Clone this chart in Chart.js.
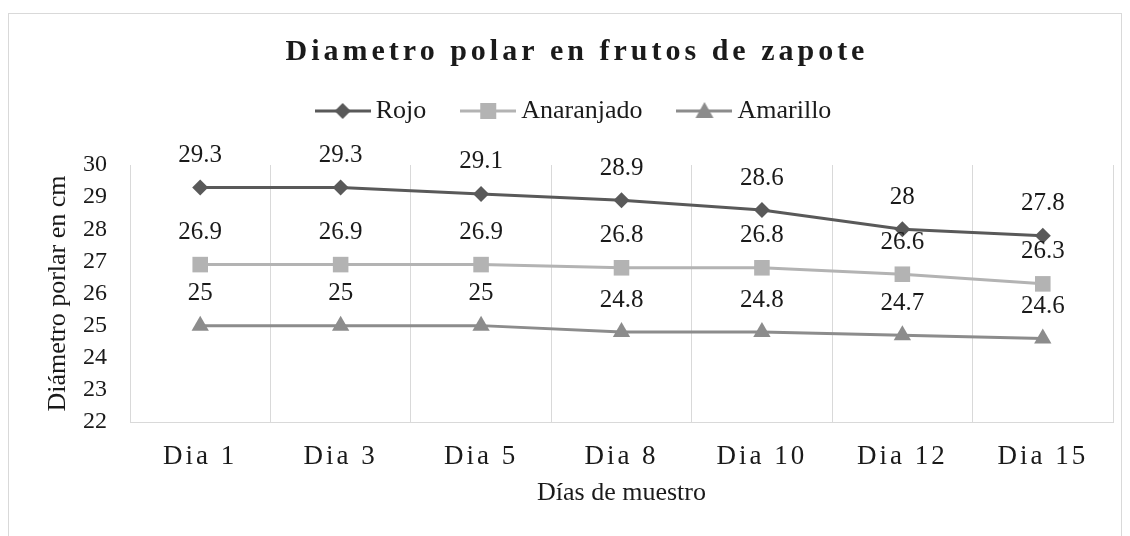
<!DOCTYPE html>
<html>
<head>
<meta charset="utf-8">
<script src="https://cdn.jsdelivr.net/npm/chart.js@4/dist/chart.umd.min.js"></script>
<style>
    body { margin: 0; background: #fff; }
    #wrap { position: relative; width: 1130px; height: 536px; overflow: hidden; }
    #frame { position: absolute; left: 8px; top: 13px; width: 1112px; height: 600px; border: 1px solid #d9d9d9; }
    #chart { position: absolute; left: 0; top: 0; }
</style>
</head>
<body>
<div id="wrap">
    <div id="frame"></div>
    <canvas id="chart" width="1130" height="536"></canvas>
</div>
<script>
const categories = ['Dia 1', 'Dia 3', 'Dia 5', 'Dia 8', 'Dia 10', 'Dia 12', 'Dia 15'];
const rojo = [29.3, 29.3, 29.1, 28.9, 28.6, 28, 27.8];
const anaranjado = [26.9, 26.9, 26.9, 26.8, 26.8, 26.6, 26.3];
const amarillo = [25, 25, 25, 24.8, 24.8, 24.7, 24.6];

const FONT = '"Liberation Serif", "Times New Roman", serif';
const TEXT = '#1a1a1a';

// legend swatch: line with the marker in the middle
function makeIcon(color, shape) {
    const c = document.createElement('canvas');
    c.width = 56; c.height = 24;
    const g = c.getContext('2d');
    g.strokeStyle = color; g.fillStyle = color; g.lineWidth = 3;
    g.beginPath(); g.moveTo(0, 12); g.lineTo(56, 12); g.stroke();
    g.beginPath();
    if (shape === 'diamond') {
        g.moveTo(28, 4); g.lineTo(36, 12); g.lineTo(28, 20); g.lineTo(20, 12);
    } else if (shape === 'square') {
        g.rect(20, 4, 16, 16);
    } else {
        g.moveTo(28, 3); g.lineTo(37, 19); g.lineTo(19, 19);
    }
    g.closePath(); g.fill();
    return c;
}
const legendIcons = [
    makeIcon('#595959', 'diamond'),
    makeIcon('#b3b3b3', 'square'),
    makeIcon('#8c8c8c', 'triangle')
];

// value labels above each point
const pointLabels = {
    id: 'pointLabels',
    afterDatasetsDraw(chart) {
        const ctx = chart.ctx;
        ctx.save();
        ctx.font = '25px ' + FONT;
        ctx.fillStyle = TEXT;
        ctx.textAlign = 'center';
        ctx.textBaseline = 'middle';
        chart.data.datasets.forEach((ds, i) => {
            chart.getDatasetMeta(i).data.forEach((pt, j) => {
                ctx.fillText(String(ds.data[j]), pt.x, pt.y - 32);
            });
        });
        ctx.restore();
    }
};

// spaced out lettering for title and category labels
const spacing = {
    id: 'spacing',
    beforeDraw(chart) {
        const t = chart.titleBlock;
        if (t && !t._spaced) {
            const d = t.draw;
            t.draw = function () {
                this.ctx.save(); this.ctx.letterSpacing = '4px';
                d.apply(this, arguments);
                this.ctx.restore();
            };
            t._spaced = true;
        }
        const x = chart.scales.x;
        if (x && !x._spaced) {
            const dl = x.drawLabels;
            x.drawLabels = function () {
                this.ctx.save(); this.ctx.letterSpacing = '3px';
                dl.apply(this, arguments);
                this.ctx.restore();
            };
            x._spaced = true;
        }
    }
};

new Chart(document.getElementById('chart'), {
    type: 'line',
    data: {
        labels: categories,
        datasets: [
            {
                label: 'Rojo', data: rojo,
                borderColor: '#595959', backgroundColor: '#595959',
                borderWidth: 3, pointStyle: 'rectRot', pointRadius: 8, pointBorderWidth: 0
            },
            {
                label: 'Anaranjado', data: anaranjado,
                borderColor: '#b3b3b3', backgroundColor: '#b3b3b3',
                borderWidth: 3, pointStyle: 'rect', pointRadius: 11, pointBorderWidth: 0
            },
            {
                label: 'Amarillo', data: amarillo,
                borderColor: '#8c8c8c', backgroundColor: '#8c8c8c',
                borderWidth: 3, pointStyle: 'triangle', pointRadius: 10, pointBorderWidth: 0
            }
        ]
    },
    options: {
        responsive: false,
        animation: false,
        layout: { padding: { left: 41, right: 17, top: 0, bottom: 0 } },
        plugins: {
            tooltip: { enabled: false },
            title: {
                display: true,
                text: 'Diametro polar en frutos de zapote',
                color: TEXT,
                font: { family: FONT, size: 30, weight: 'bold', lineHeight: 1 },
                padding: { top: 37, bottom: -11 }
            },
            legend: {
                display: true,
                labels: {
                    usePointStyle: true,
                    pointStyleWidth: 40,
                    padding: 42,
                    color: TEXT,
                    font: { family: FONT, size: 26 },
                    generateLabels(chart) {
                        const items = Chart.defaults.plugins.legend.labels.generateLabels(chart);
                        items.forEach((it, i) => { it.pointStyle = legendIcons[i]; });
                        return items;
                    }
                }
            },
            subtitle: {
                display: true,
                text: ' ',
                weight: 500,
                font: { size: 10, lineHeight: 1 },
                padding: { top: 21, bottom: 0 }
            }
        },
        scales: {
            x: {
                offset: true,
                grid: { display: true, offset: true, color: '#d9d9d9', lineWidth: 1, drawTicks: false },
                border: { display: true, color: '#d9d9d9', width: 1 },
                ticks: {
                    color: TEXT, font: { family: FONT, size: 27 },
                    padding: 19, autoSkip: false, maxRotation: 0
                },
                title: {
                    display: true, text: 'Días de muestro', color: TEXT,
                    font: { family: FONT, size: 26 },
                    padding: { top: 0, bottom: 27 }
                },
                afterFit(scale) { scale.height = 114; }
            },
            y: {
                min: 22, max: 30,
                grid: { display: false, drawTicks: false },
                border: { display: false },
                ticks: { stepSize: 1, color: TEXT, font: { family: FONT, size: 24 }, padding: 23 },
                title: {
                    display: true, text: 'Diámetro porlar en cm', color: TEXT,
                    font: { family: FONT, size: 26 },
                    padding: { top: 2, bottom: 0 }
                },
                afterFit(scale) { scale.width = 89; }
            }
        }
    },
    plugins: [pointLabels, spacing]
});
</script>
</body>
</html>
